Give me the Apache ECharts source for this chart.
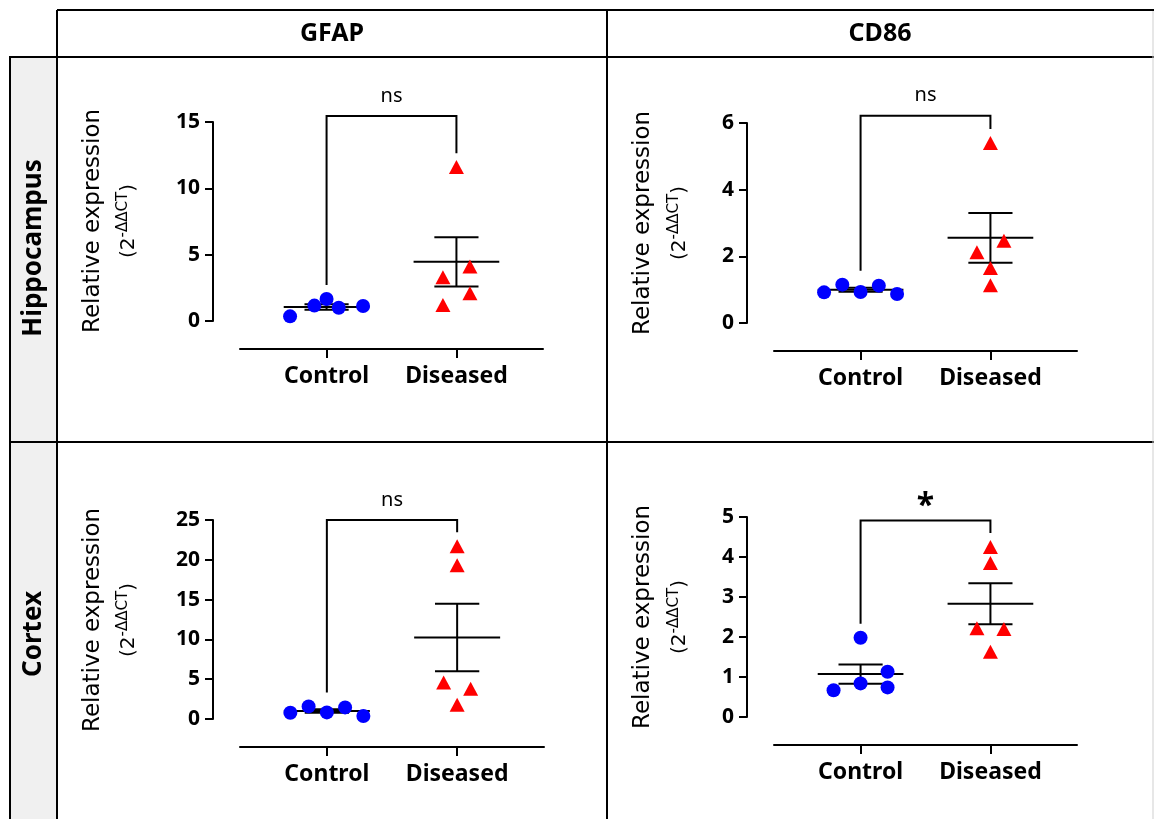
<!DOCTYPE html>
<html>
<head>
<meta charset="utf-8">
<script src="https://cdn.jsdelivr.net/npm/echarts@6/dist/echarts.min.js"></script>
<style>
html, body { margin: 0; padding: 0; background: #fff; }
#chart { width: 1154px; height: 819px; }
</style>
</head>
<body>
<div id="chart"></div>
<script>
var groups = ['Control', 'Diseased'];
var genes = ['GFAP', 'CD86'];
var regions = ['Hippocampus', 'Cortex'];

// relative expression per animal
var hippoGfapControl = [0.35, 1.16, 1.0, 1.13, 1.66];
var hippoGfapDiseased = [1.2, 2.09, 3.3, 4.1, 11.6];
var hippoCd86Control = [0.92, 1.15, 0.93, 1.12, 0.87];
var hippoCd86Diseased = [1.13, 1.65, 2.12, 2.47, 5.4];
var cortexGfapControl = [0.79, 1.58, 0.83, 1.46, 0.38];
var cortexGfapDiseased = [1.8, 4.6, 3.8, 19.3, 21.7];
var cortexCd86Control = [0.67, 0.84, 0.74, 1.13, 1.98];
var cortexCd86Diseased = [1.63, 2.22, 2.2, 3.85, 4.25];

var yMax = [15, 6, 25, 5];
var yInterval = [5, 2, 5, 1];
var bracketTop = [15.45, 6.22, 25, 4.91];
var significance = ['ns', 'ns', 'ns', '*'];

var panels = [
  {ctl: hippoGfapControl, dis: hippoGfapDiseased, left: 240, top: 122, width: 303, height: 199, tx: [93, 129], ty: 221},
  {ctl: hippoCd86Control, dis: hippoCd86Diseased, left: 774, top: 123, width: 303, height: 200, tx: [643, 680], ty: 223},
  {ctl: cortexGfapControl, dis: cortexGfapDiseased, left: 240, top: 520, width: 304, height: 199, tx: [93, 129], ty: 620},
  {ctl: cortexCd86Control, dis: cortexCd86Diseased, left: 774, top: 517, width: 303, height: 200, tx: [643, 680], ty: 617}
];

var X_MIN = 1 / 3, X_MAX = 8 / 3;
var SYM = 14;
var BLACK = '#000';

function mean(a) {
  var s = 0;
  a.forEach(function (v) { s += v; });
  return s / a.length;
}
function sem(a) {
  var m = mean(a), s = 0;
  a.forEach(function (v) { s += (v - m) * (v - m); });
  return Math.sqrt(s / (a.length - 1)) / Math.sqrt(a.length);
}
function maxOf(a) { return Math.max.apply(null, a); }

var measureCtx = document.createElement('canvas').getContext('2d');
function textWidth(size, s) {
  measureCtx.font = size + 'px "DejaVu Sans"';
  return measureCtx.measureText(s).width;
}

// column scatter spread (prism style): points at similar height share a row
function swarm(vals, pxPerUnit) {
  var gap = 27, half = 36.5, d = 13;
  var order = vals.map(function (v, i) { return i; })
    .sort(function (a, b) { return vals[a] - vals[b]; });
  var off = [], placed = [], k = 0;
  while (k < order.length) {
    var start = vals[order[k]], row = [];
    while (k < order.length && (vals[order[k]] - start) * pxPerUnit < d) {
      row.push(order[k]);
      k++;
    }
    row.sort(function (a, b) { return a - b; });
    var n = row.length;
    var sp = n > 1 ? Math.min(gap, 2 * half / (n - 1)) : 0;
    row.forEach(function (idx, j) {
      var dx = (j - (n - 1) / 2) * sp;
      var tries = [dx, dx + gap, dx - gap];
      for (var t = 0; t < tries.length; t++) {
        var ok = placed.every(function (p) {
          var a = p.x - tries[t], b = (p.v - vals[idx]) * pxPerUnit;
          return a * a + b * b >= d * d;
        });
        if (ok) { dx = tries[t]; break; }
      }
      off[idx] = dx;
      placed.push({x: dx, v: vals[idx]});
    });
  }
  return off;
}

function vText(x, y, text, size, weight, family, align) {
  return {
    type: 'text', x: x, y: y, rotation: Math.PI / 2, z: 10,
    style: {
      text: text, fill: BLACK, fontSize: size, fontWeight: weight, fontFamily: family,
      textAlign: align, textVerticalAlign: 'middle', align: align, verticalAlign: 'middle'
    }
  };
}

var grids = [], xAxes = [], yAxes = [], series = [], graphics = [];

// "(2^-ΔΔCT)" as three pieces: [text, font size, shift to the left]
var pieces = [['(2', 20, 0], ['-ΔΔCT', 15, 6], [')', 20, 0]];
var piecesW = pieces.map(function (pc) { return textWidth(pc[1], pc[0]); });
var totalW = piecesW.reduce(function (a, b) { return a + b; }, 0);

panels.forEach(function (p, i) {
  grids.push({left: p.left, top: p.top, width: p.width, height: p.height});
  xAxes.push({
    gridIndex: i, type: 'value', min: X_MIN, max: X_MAX, position: 'bottom', offset: 28,
    axisLine: {onZero: false, lineStyle: {color: BLACK, width: 2}},
    axisTick: {show: true, customValues: [1, 2], length: 9, lineStyle: {color: BLACK, width: 2}},
    axisLabel: {
      customValues: [1, 2], margin: 16, color: BLACK,
      fontFamily: 'Noto Sans', fontWeight: 'bold', fontSize: 23,
      formatter: function (v) { return groups[Math.round(v) - 1]; }
    },
    splitLine: {show: false}
  });
  yAxes.push({
    gridIndex: i, type: 'value', min: 0, max: yMax[i], interval: yInterval[i], position: 'left', offset: 27,
    axisLine: {show: true, onZero: false, lineStyle: {color: BLACK, width: 2}},
    axisTick: {show: true, length: 8, lineStyle: {color: BLACK, width: 2}},
    axisLabel: {margin: 13, color: BLACK, fontFamily: 'Noto Sans', fontWeight: 'bold', fontSize: 21},
    splitLine: {show: false}
  });

  var pxY = p.height / yMax[i];
  var pxX = p.width / (X_MAX - X_MIN);
  [p.ctl, p.dis].forEach(function (vals, g) {
    var off = swarm(vals, pxY);
    series.push({
      type: 'scatter', xAxisIndex: i, yAxisIndex: i, z: 5,
      symbol: g === 0 ? 'circle' : 'triangle',
      symbolSize: g === 0 ? SYM : [15, 14],
      itemStyle: {color: g === 0 ? '#0000ff' : '#ff0000', opacity: 1},
      data: vals.map(function (v, j) { return [g + 1 + off[j] / pxX, v]; })
    });
  });

  // mean +- SEM
  series.push({
    type: 'custom', xAxisIndex: i, yAxisIndex: i, z: 3,
    data: [[1, mean(p.ctl), sem(p.ctl)], [2, mean(p.dis), sem(p.dis)]],
    renderItem: function (params, api) {
      var x = api.value(0), m = api.value(1), s = api.value(2);
      function seg(x1, y1, x2, y2) {
        var a = api.coord([x1, y1]), b = api.coord([x2, y2]);
        return {type: 'line', shape: {x1: a[0], y1: a[1], x2: b[0], y2: b[1]},
          style: {stroke: BLACK, lineWidth: 2}};
      }
      return {type: 'group', children: [
        seg(x - 0.33, m, x + 0.33, m),
        seg(x, m - s, x, m + s),
        seg(x - 0.17, m + s, x + 0.17, m + s),
        seg(x - 0.17, m - s, x + 0.17, m - s)
      ]};
    }
  });

  // significance bracket
  var gapV = 0.07 * yMax[i];
  series.push({
    type: 'custom', xAxisIndex: i, yAxisIndex: i, z: 4, clip: false,
    data: [[maxOf(p.ctl) + gapV, maxOf(p.dis) + gapV, bracketTop[i]]],
    renderItem: function (params, api) {
      var a = api.coord([1, api.value(0)]), b = api.coord([1, api.value(2)]);
      var c = api.coord([2, api.value(2)]), d = api.coord([2, api.value(1)]);
      var star = significance[i] === '*';
      return {type: 'group', children: [
        {type: 'polyline', shape: {points: [a, b, c, d]},
          style: {stroke: BLACK, lineWidth: 2, fill: null}},
        {type: 'text', x: (b[0] + c[0]) / 2, y: b[1] - (star ? 14 : 20),
          style: {text: significance[i], fill: BLACK,
            font: (star ? 'bold 32px' : '20px') + ' "Noto Sans"',
            textAlign: 'center', textVerticalAlign: 'middle', align: 'center', verticalAlign: 'middle'}}
      ]};
    }
  });

  // y axis title, two lines
  graphics.push(vText(p.tx[0], p.ty, 'Relative expression', 23, 'normal', 'DejaVu Sans', 'center'));
  var along = -totalW / 2;
  pieces.forEach(function (pc, j) {
    // rotated text reads bottom to top, so "along" runs upward on screen
    graphics.push(vText(p.tx[1] - pc[2], p.ty - along, pc[0], pc[1], 'normal', 'DejaVu Sans', 'left'));
    along += piecesW[j];
  });
});

// table frame
function hline(x1, x2, y) {
  return {type: 'line', z: 1, shape: {x1: x1, y1: y, x2: x2, y2: y}, style: {stroke: BLACK, lineWidth: 2}};
}
function vline(x, y1, y2) {
  return {type: 'line', z: 1, shape: {x1: x, y1: y1, x2: x, y2: y2}, style: {stroke: BLACK, lineWidth: 2}};
}
graphics.push({type: 'rect', z: 0, shape: {x: 10, y: 57, width: 47, height: 775},
  style: {fill: '#f0f0f0', stroke: BLACK, lineWidth: 2}});
graphics.push(hline(57, 1154, 10));
graphics.push(hline(10, 1154, 57));
graphics.push(hline(10, 1154, 442));
graphics.push(vline(57, 10, 819));
graphics.push(vline(607, 10, 819));
graphics.push({type: 'line', z: 1, shape: {x1: 1153, y1: 11, x2: 1153, y2: 819},
  style: {stroke: '#cfcfcf', lineWidth: 1}});

genes.forEach(function (g, j) {
  graphics.push({type: 'text', x: j === 0 ? 332 : 880, y: 34, z: 10,
    style: {text: g, fill: BLACK, font: 'bold 25px "Noto Sans"',
      textAlign: 'center', textVerticalAlign: 'middle', align: 'center', verticalAlign: 'middle'}});
});
regions.forEach(function (r, j) {
  graphics.push(vText(34, j === 0 ? 248 : 634, r, 26, 'bold', 'Noto Sans', 'center'));
});

var chart = echarts.init(document.getElementById('chart'));
chart.setOption({
  animation: false,
  backgroundColor: '#fff',
  grid: grids,
  xAxis: xAxes,
  yAxis: yAxes,
  series: series,
  graphic: graphics
});
</script>
</body>
</html>
